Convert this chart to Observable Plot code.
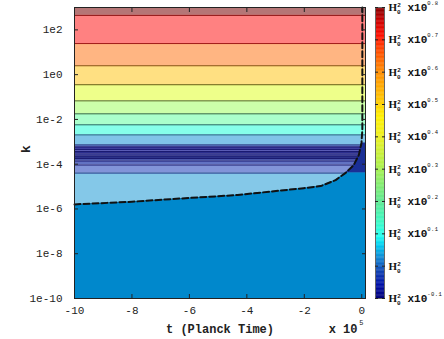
<!DOCTYPE html>
<html><head><meta charset="utf-8">
<script src="https://cdn.jsdelivr.net/npm/d3@7"></script>
<script src="https://cdn.jsdelivr.net/npm/@observablehq/plot@0.6"></script>
<style>
body{margin:0;background:#fff;}
#wrap{position:relative;width:444px;height:339px;overflow:hidden;}
#wrap svg{position:absolute;top:0;}
</style></head><body><div id="wrap"></div>
<script>
// ---- axes ----
const xTicks = [-10, -8, -6, -4, -2, 0];
const yTicks = [1e-10, 1e-8, 1e-6, 1e-4, 1e-2, 1e0, 1e2];
const xDomain = [-10, 0.13];
const yDomain = [1e-10, 1e3];
const xTitle = "t (Planck Time)";
const yTitle = "k";
const xScaleNote = "x 10";
const xScaleExp = "5";

// ---- horizontal contour bands (k ranges) ----
const bandHigh = [1e3, 450, 24.5, 2.5, 0.355, 0.0676, 0.0178, 0.00575, 0.00204, 7.26e-4, 5.9e-4, 4.56e-4, 3.71e-4, 2.87e-4, 2.33e-4, 1.80e-4, 1.39e-4, 9.2e-5, 4.03e-5];
const bandLow  = [450, 24.5, 2.5, 0.355, 0.0676, 0.0178, 0.00575, 0.00204, 7.26e-4, 5.9e-4, 4.56e-4, 3.71e-4, 2.87e-4, 2.33e-4, 1.80e-4, 1.39e-4, 9.2e-5, 4.03e-5, 1e-10];
const bandFill = ["#b57676", "#ff8181", "#ffb582", "#ffe082", "#eeff8a", "#ccffaa", "#aaffcc", "#86ffea", "#80c4e8", "#7a8ad8", "#36389a", "#5a5cb8", "#2c2e8e", "#5058b0", "#2a3088", "#4a56aa", "#6272c2", "#8294d8", "#84c8e8"];
const lineK     = [450, 24.5, 2.5, 0.355, 0.0676, 0.0178, 0.00575, 0.00204, 7.26e-4, 5.9e-4, 4.56e-4, 3.71e-4, 2.87e-4, 2.33e-4, 1.80e-4, 1.39e-4, 9.2e-5, 4.03e-5];
const lineColor = ["#7a0000", "#a01818", "#8a4a10", "#6a5a10", "#5a6a20", "#3a6a3a", "#2a6a5a", "#206a80", "#103a7a", "#1a1a70", "#1a1a70", "#1a1a70", "#1a1a70", "#1a1a70", "#1a1a70", "#1a1a70", "#1a1a70", "#1a2a80"];

// ---- critical curve (dashed) ----
const curveT = [-10, -8, -6.66, -4.32, -2.02, -1.43, -0.91, -0.56, -0.28, -0.10, -0.01, 0.02, 0.02];
const curveK = [1.6e-6, 2.1e-6, 2.75e-6, 4.2e-6, 8.5e-6, 1.05e-5, 1.95e-5, 4.1e-5, 9.1e-5, 2.6e-4, 8.9e-4, 3.4e-3, 1e3];
const solidLowFill = "#0088cc";
const solidHighFill = "#1a2f96";

// ---- colorbar ----
const cbDomain = [-0.1, 0.8];
const cbTicks = [-0.1, 0, 0.1, 0.2, 0.3, 0.4, 0.5, 0.6, 0.7, 0.8];
const cbStops  = [-0.1, -0.06, -0.02, 0.02, 0.06, 0.09, 0.14, 0.2, 0.3, 0.4, 0.46, 0.52, 0.6, 0.66, 0.71, 0.76, 0.8];
const cbColors = ["#000078", "#0010a8", "#1040b0", "#1080d0", "#00c8f0", "#20fff0", "#40f8c0", "#60e890", "#a8f050", "#eef020", "#fff000", "#ffc000", "#ff8c00", "#ff5000", "#ff1000", "#c80000", "#800000"];

const bands = bandLow.map((lo, i) => ({lo, hi: bandHigh[i], fill: bandFill[i]}));
const lines = lineK.map((k, i) => ({k, c: lineColor[i]}));
const curve = curveT.map((t, i) => ({t, k: curveK[i]}));
// region right of/below the curve
const solidLow = [{t: xDomain[0], k: yDomain[0]}, ...curve.filter(d => d.k <= 4.1e-5)];
const solidHigh = curve.filter(d => d.k >= 4.1e-5 && d.k <= 8.9e-4);

const axisFont = {fontFamily: "Liberation Mono, monospace", fontSize: 11, fill: "#222"};

const chart = Plot.plot({
  width: 444, height: 339,
  marginLeft: 74, marginRight: 79, marginTop: 7, marginBottom: 41,
  style: {fontFamily: "Liberation Mono, monospace", fontSize: "11px", color: "#222", background: "transparent"},
  x: {domain: xDomain},
  y: {type: "log", domain: yDomain},
  marks: [
    Plot.rect(bands, {x1: xDomain[0], x2: xDomain[1], y1: "lo", y2: "hi", fill: d => d.fill}),
    Plot.ruleY(lines, {y: "k", stroke: d => d.c, strokeWidth: 1}),
    Plot.areaX(solidLow, {y: "k", x1: "t", x2: xDomain[1], fill: solidLowFill, curve: "linear"}),
    Plot.areaX(solidHigh, {y: "k", x1: "t", x2: xDomain[1], fill: solidHighFill, curve: "linear"}),
    Plot.line(curve, {x: "t", y: "k", stroke: "#111", strokeWidth: 2, strokeDasharray: "6,3"}),
    Plot.frame({stroke: "#222"}),
    Plot.axisX({anchor: "bottom", ticks: xTicks, tickSize: -4, tickPadding: 12, label: null, tickFormat: d => String(d), ...axisFont}),
    Plot.axisX({anchor: "top", ticks: xTicks, tickSize: -4, label: null, tickFormat: () => ""}),
    Plot.axisY({anchor: "left", ticks: yTicks, tickSize: -4, tickPadding: 16, label: null, tickFormat: d => "1e" + Math.round(Math.log10(d)), ...axisFont}),
    Plot.axisY({anchor: "right", ticks: yTicks, tickSize: -4, label: null, tickFormat: () => ""}),
    Plot.text([xTitle], {frameAnchor: "bottom", dy: 34, fontFamily: "Liberation Mono, monospace", fontWeight: "bold", fontSize: 12, fill: "#222"}),
    Plot.text([xScaleNote], {frameAnchor: "bottom-right", textAnchor: "end", dx: -8, dy: 34, fontFamily: "Liberation Mono, monospace", fontWeight: "bold", fontSize: 12, fill: "#222"}),
    Plot.text([xScaleExp], {frameAnchor: "bottom-right", dx: -2, dy: 26, fontFamily: "Liberation Mono, monospace", fontSize: 7, fill: "#222"}),
    Plot.text([yTitle], {frameAnchor: "left", dx: -49, rotate: -90, fontFamily: "Liberation Mono, monospace", fontWeight: "bold", fontSize: 13, fill: "#222"})
  ]
});
chart.style.left = "0px";
document.getElementById("wrap").appendChild(chart);

const ramp = d3.range(cbDomain[0], cbDomain[1], 0.0025);
const legend = Plot.plot({
  width: 74, height: 339,
  marginLeft: 5, marginRight: 60, marginTop: 7, marginBottom: 41,
  style: {background: "transparent", fontFamily: "Liberation Mono, monospace", fontSize: "11px", color: "#222"},
  x: {domain: [0, 1], axis: null},
  y: {domain: cbDomain},
  color: {type: "linear", domain: cbStops, range: cbColors, interpolate: "rgb"},
  marks: [
    Plot.rect(ramp, {x1: 0, x2: 1, y1: d => d, y2: d => Math.min(d + 0.0035, cbDomain[1]), fill: d => d}),
    Plot.frame({stroke: "#666"}),
    Plot.axisY({anchor: "right", ticks: cbTicks, tickSize: -3, tickPadding: 7, label: null, tickFormat: d3.format(".1f"), fontSize: 11, fill: "#111"}),
    Plot.axisY({anchor: "left", ticks: cbTicks, tickSize: -3, label: null, tickFormat: () => ""})
  ]
});
legend.style.left = "370px";
document.getElementById("wrap").appendChild(legend);

// rich labels for colorbar: H0^2 x10^v
d3.select(legend).selectAll('g[aria-label="y-axis tick label"] text').each(function() {
  const t = d3.select(this);
  const v = t.text();
  if (v === "") return;
  t.text("");
  t.append("tspan").attr("font-family", "Liberation Serif, serif").attr("font-weight", "bold").attr("font-size", 11).text("H");
  t.append("tspan").attr("font-size", 6).attr("font-weight", "bold").attr("dy", 3).text("0");
  t.append("tspan").attr("font-size", 6).attr("font-weight", "bold").attr("dx", -3.4).attr("dy", -7).text("2");
  if (+v !== 0) {
    t.append("tspan").attr("font-family", "Liberation Mono, monospace").attr("font-weight", "bold").attr("font-size", 11).attr("dy", 4).text(" x10");
    t.append("tspan").attr("font-size", 5.5).attr("letter-spacing", 0.4).attr("dy", -6).text(v.replace("−", "-"));
  }
});
</script></body></html>
